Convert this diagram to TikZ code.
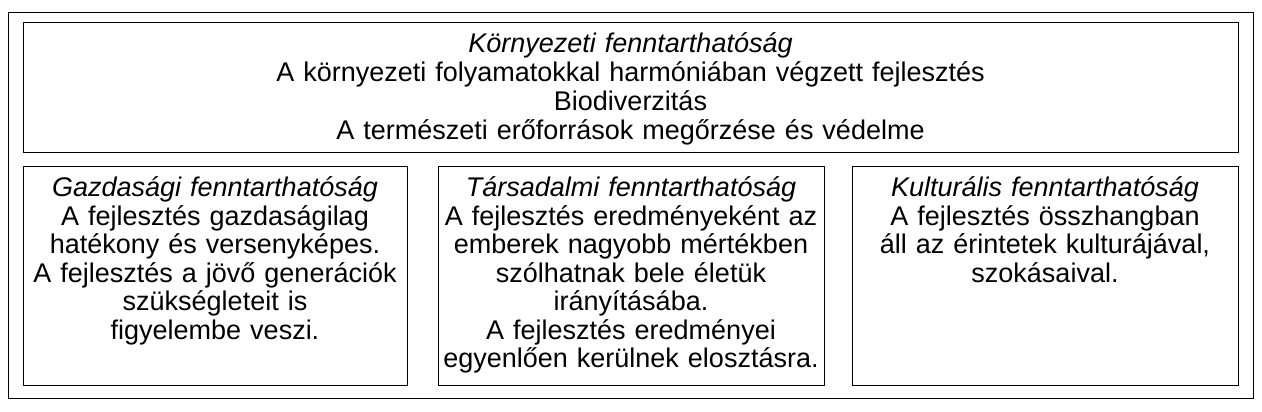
\documentclass[tikz,border=0pt]{standalone}
\usepackage{fontspec}
\setmainfont{Liberation Sans}
\begin{document}
\begin{tikzpicture}[x=1pt,y=-1pt,
  frame/.style={draw=black,line width=1pt,rectangle,inner sep=0pt,outer sep=0pt},
  txt/.style={anchor=base,inner sep=0pt,align=center,font=\fontsize{27}{28.5}\selectfont}]
\useasboundingbox (0,0) rectangle (1262,412);
\node[frame,minimum width=1245pt,minimum height=385pt] (outer) at (630.5,205.5) {};
\node[frame,minimum width=1215pt,minimum height=129pt] (env) at (630.5,87.5) {};
\node[frame,minimum width=384pt,minimum height=219pt] (eco) at (215,275.5) {};
\node[frame,minimum width=386pt,minimum height=219pt] (soc) at (631,275.5) {};
\node[frame,minimum width=386pt,minimum height=219pt] (cul) at (1045,275.5) {};
\node[txt,text width=1200pt,font=\fontsize{27}{29.2}\selectfont] (envt) at (630.5,52.2) {\textit{Környezeti fenntarthatóság}\\A környezeti folyamatokkal harmóniában végzett fejlesztés\\Biodiverzitás\\A természeti erőforrások megőrzése és védelme};
\node[txt,text width=380pt] (ecot) at (215,196.5) {\textit{Gazdasági fenntarthatóság}\\A fejlesztés gazdaságilag\\hatékony és versenyképes.\\A fejlesztés a jövő generációk\\szükségleteit is\\figyelembe veszi.};
\node[txt,text width=380pt] (soct) at (631,196.5) {\textit{Társadalmi fenntarthatóság}\\A fejlesztés eredményeként az\\emberek nagyobb mértékben\\szólhatnak bele életük\\irányításába.\\A fejlesztés eredményei\\egyenlően kerülnek elosztásra.};
\node[txt,text width=380pt] (cult) at (1045,196.5) {\textit{Kulturális fenntarthatóság}\\A fejlesztés összhangban\\áll az érintetek kulturájával,\\szokásaival.};
\end{tikzpicture}
\end{document}
